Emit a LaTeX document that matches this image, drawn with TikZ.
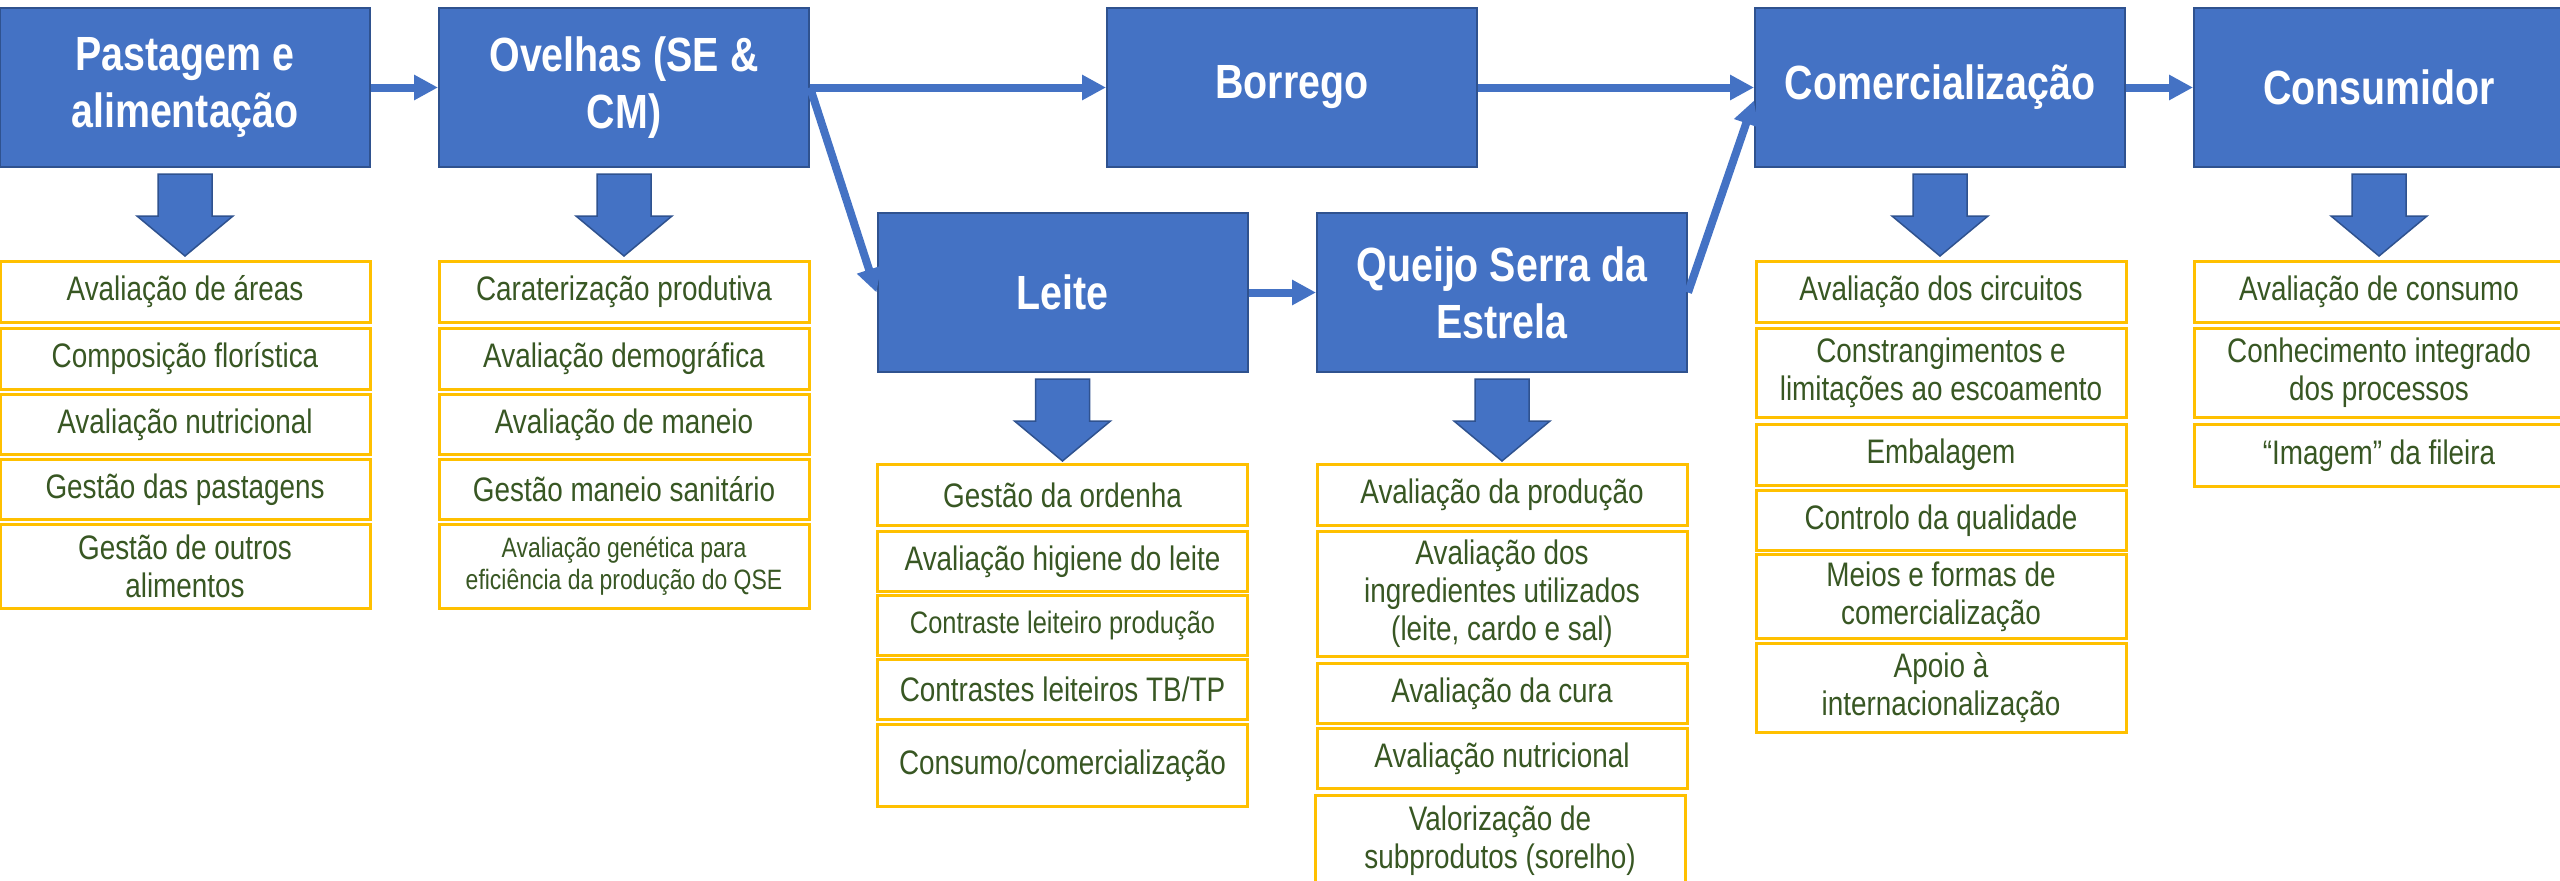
\documentclass[tikz,border=0pt]{standalone}
\usepackage{fontspec}
\setmainfont{Liberation Sans}[FakeStretch=0.82]
\usetikzlibrary{arrows.meta,calc}
\definecolor{boxblue}{HTML}{4472C4}
\definecolor{boxedge}{HTML}{2F528F}
\definecolor{itemorange}{HTML}{FFC000}
\definecolor{itemgreen}{HTML}{385723}
\begin{document}
\begin{tikzpicture}[x=1pt,y=-1pt,
  stage/.style={draw=boxedge, line width=2pt, fill=boxblue, text=white,
    font=\fontsize{48}{57}\selectfont\bfseries, align=center,
    minimum width=370pt, minimum height=159pt, inner sep=0pt},
  item/.style={draw=itemorange, line width=3pt, fill=white, text=itemgreen,
    font=\fontsize{34}{38}\selectfont, align=center,
    minimum width=370pt, inner sep=0pt, anchor=north},
  small/.style={font=\fontsize{28}{32}\selectfont},
  flow/.style={draw=boxblue, line width=8pt, -{Triangle[length=24pt,width=24pt]}},
  downarrow/.pic={\draw[boxedge, line width=1.5pt, fill=boxblue]
    (-27,6) -- (27,6) -- (27,48) -- (48,48) -- (0,88) -- (-48,48) -- (-27,48) -- cycle;}
]
\useasboundingbox[fill=white] (0,0) rectangle (2560,881);

% stages
\node[stage] (P) at (185,87.5) {Pastagem e\\alimentação};
\node[stage] (O) at (624,87.5) {Ovelhas (SE \&\\CM)};
\node[stage] (B) at (1292,87.5) {Borrego};
\node[stage] (L) at (1062.5,292.5) {Leite};
\node[stage] (Q) at (1502,292.5) {Queijo Serra da\\Estrela};
\node[stage] (C) at (1940,87.5) {Comercialização};
\node[stage] (K) at (2379,87.5) {Consumidor};

% connectors
\draw[flow] (P.east) -- (O.west);
\draw[flow] (O.east) -- (B.west);
\draw[flow] (O.east) -- (L.west);
\draw[flow] (B.east) -- (C.west);
\draw[flow] (L.east) -- (Q.west);
\coordinate (Cin) at ($(C.west)+(0,13)$);
\draw[flow] (Q.east) -- (Cin);
\draw[flow] (C.east) -- (K.west);

% block arrows
\pic at (P.south) {downarrow};
\pic at (O.south) {downarrow};
\pic at (L.south) {downarrow};
\pic at (Q.south) {downarrow};
\pic at (C.south) {downarrow};
\pic at (K.south) {downarrow};

% column 1
\node[item, minimum height=61pt] (p1) at (185,260) {Avaliação de áreas};
\node[item, minimum height=61pt] (p2) at (185,327) {Composição florística};
\node[item, minimum height=60pt] (p3) at (185,393) {Avaliação nutricional};
\node[item, minimum height=60pt] (p4) at (185,458) {Gestão das pastagens};
\node[item, minimum height=84pt] (p5) at (185,523) {Gestão de outros\\alimentos};

% column 2
\node[item, minimum height=61pt] (o1) at (624,260) {Caraterização produtiva};
\node[item, minimum height=61pt] (o2) at (624,327) {Avaliação demográfica};
\node[item, minimum height=60pt] (o3) at (624,393) {Avaliação de maneio};
\node[item, minimum height=60pt] (o4) at (624,458) {Gestão maneio sanitário};
\node[item, small, minimum height=84pt] (o5) at (624,523) {Avaliação genética para\\eficiência da produção do QSE};

% column 3 (Leite)
\node[item, minimum height=61pt] (l1) at (1062.5,463) {Gestão da ordenha};
\node[item, minimum height=60pt] (l2) at (1062.5,530) {Avaliação higiene do leite};
\node[item, minimum height=60pt, font=\fontsize{31}{36}\selectfont] (l3) at (1062.5,594) {Contraste leiteiro produção};
\node[item, minimum height=60pt] (l4) at (1062.5,658) {Contrastes leiteiros TB/TP};
\node[item, minimum height=82pt] (l5) at (1062.5,723) {Consumo/comercialização};

% column 4 (Queijo)
\node[item, minimum height=61pt] (q1) at (1502,463) {Avaliação da produção};
\node[item, minimum height=125pt] (q2) at (1502,530) {Avaliação dos\\ingredientes utilizados\\(leite, cardo e sal)};
\node[item, minimum height=60pt] (q3) at (1502,662) {Avaliação da cura};
\node[item, minimum height=60pt] (q4) at (1502,727) {Avaliação nutricional};
\node[item, minimum height=90pt] (q5) at (1500,794) {Valorização de\\subprodutos (sorelho)};

% column 5 (Comercializacao)
\node[item, minimum height=61pt] (c1) at (1941,260) {Avaliação dos circuitos};
\node[item, minimum height=89pt] (c2) at (1941,327) {Constrangimentos e\\limitações ao escoamento};
\node[item, minimum height=61pt] (c3) at (1941,423) {Embalagem};
\node[item, minimum height=60pt] (c4) at (1941,489) {Controlo da qualidade};
\node[item, minimum height=84pt] (c5) at (1941,553) {Meios e formas de\\comercialização};
\node[item, minimum height=89pt] (c6) at (1941,642) {Apoio à\\internacionalização};

% column 6 (Consumidor)
\node[item, minimum height=61pt] (k1) at (2379,260) {Avaliação de consumo};
\node[item, minimum height=89pt] (k2) at (2379,327) {Conhecimento integrado\\dos processos};
\node[item, minimum height=62pt] (k3) at (2379,423) {“Imagem” da fileira};
\end{tikzpicture}
\end{document}
